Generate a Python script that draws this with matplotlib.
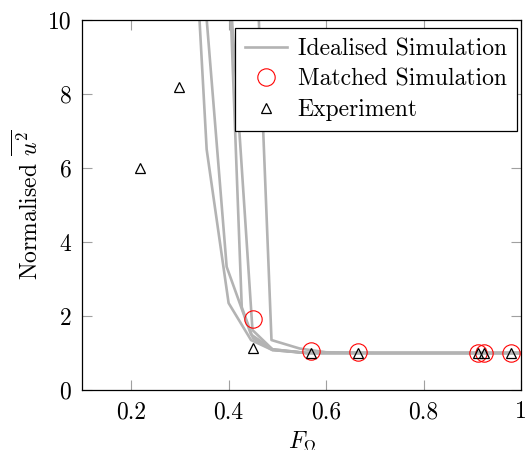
import numpy as np
import matplotlib
matplotlib.use("Agg")
import matplotlib.pyplot as plt
from matplotlib.ticker import FuncFormatter

plt.rcParams['font.family'] = 'serif'
plt.rcParams['font.serif'] = ['cmr10']
plt.rcParams['mathtext.fontset'] = 'cm'
plt.rcParams['axes.formatter.use_mathtext'] = True
plt.rcParams['font.size'] = 17

# idealised simulation curves (F, normalised u^2)
sim1_x = [0.334, 0.355, 0.400, 0.446, 0.490, 0.560, 0.700, 1.000]
sim1_y = [11.5, 6.50, 2.35, 1.35, 1.08, 1.00, 1.00, 1.00]
sim2_x = [0.349, 0.396, 0.446, 0.490, 0.560, 0.700, 1.000]
sim2_y = [11.0, 3.33, 1.50, 1.10, 1.00, 1.00, 1.00]
sim3_x = [0.402, 0.427, 0.450, 0.490, 0.560, 0.700, 1.000]
sim3_y = [11.0, 2.24, 1.40, 1.08, 1.00, 1.00, 1.00]
sim4_x = [0.402, 0.449, 0.490, 0.560, 0.700, 1.000]
sim4_y = [11.0, 1.62, 1.10, 1.00, 1.00, 1.00]
sim5_x = [0.459, 0.488, 0.546, 0.600, 0.700, 1.000]
sim5_y = [11.0, 1.35, 1.12, 1.02, 1.00, 1.00]
sim_curves = [(sim1_x, sim1_y), (sim2_x, sim2_y), (sim3_x, sim3_y),
              (sim4_x, sim4_y), (sim5_x, sim5_y)]

# matched simulation
match_x = [0.451, 0.570, 0.666, 0.912, 0.924, 0.980]
match_y = [1.92, 1.06, 1.03, 1.00, 1.00, 1.00]

# experiment
exp_x = [0.218, 0.299, 0.451, 0.570, 0.666, 0.911, 0.924, 0.980]
exp_y = [6.00, 8.19, 1.13, 1.00, 1.00, 1.00, 1.00, 1.00]

fig = plt.figure(figsize=(5.29, 4.5), dpi=100)
ax = fig.add_axes([82.4 / 529, 1 - 390 / 450, (521 - 82.4) / 529, 370 / 450])

for i, (x, y) in enumerate(sim_curves):
    ax.plot(x, y, color='#b3b3b3', lw=1.9,
            label='Idealised Simulation' if i == 0 else None, zorder=2)

ax.plot(match_x, match_y, ls='none', marker='o', ms=12.5, mfc='none',
        mec='red', mew=0.8, label='Matched Simulation', zorder=3)
ax.plot(exp_x, exp_y, ls='none', marker='^', ms=7.5, mfc='none',
        mec='black', mew=0.9, label='Experiment', zorder=4)

ax.set_xlim(0.1, 1.0)
ax.set_ylim(0, 10)
ax.set_xticks([0.2, 0.4, 0.6, 0.8, 1.0])
ax.set_yticks([0, 2, 4, 6, 8, 10])
ax.xaxis.set_major_formatter(FuncFormatter(lambda v, p: '%g' % v))
ax.yaxis.set_major_formatter(FuncFormatter(lambda v, p: '%g' % v))
ax.tick_params(direction='in', length=7, width=0.8, color='#a0a0a0',
               top=True, right=True, pad=8)
for s in ax.spines.values():
    s.set_linewidth(0.9)

ax.set_xlabel(r'$F_\Omega$', labelpad=5)
ax.set_ylabel(r'Normalised $\overline{u^2}$', labelpad=3)

leg = ax.legend(loc='upper right', bbox_to_anchor=(0.99, 0.978),
                borderaxespad=0, fancybox=False, framealpha=1,
                edgecolor='black', handlelength=1.8, handletextpad=0.45,
                labelspacing=0.35, borderpad=0.42)
leg.get_frame().set_linewidth(0.9)

fig.savefig('out.png', dpi=100)
